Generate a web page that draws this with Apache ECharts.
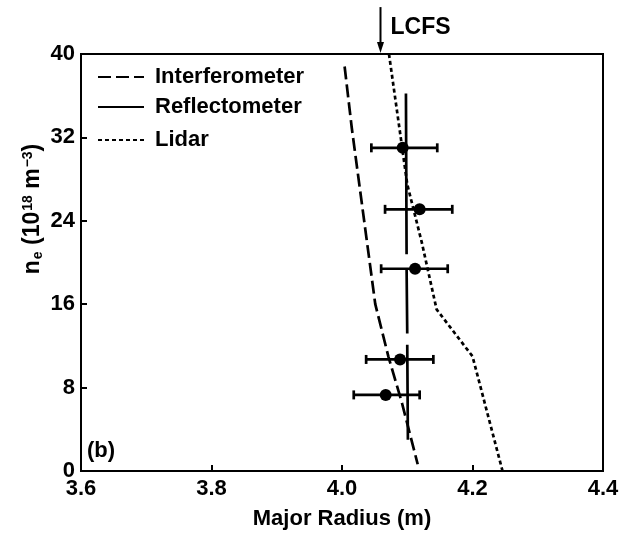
<!DOCTYPE html>
<html><head><meta charset="utf-8">
<script src="https://cdn.jsdelivr.net/npm/echarts@6/dist/echarts.min.js"></script>
<style>html,body{margin:0;padding:0;background:#fff}#c{width:623px;height:535px}</style>
</head><body><div id="c"></div>
<script>
// ---- data ----
const xTicks = [3.6, 3.8, 4.0, 4.2, 4.4];
const yTicks = [0, 8, 16, 24, 32, 40];
const interferometerR = [4.004, 4.015, 4.051, 4.071, 4.092, 4.116];
const interferometerN = [38.8, 32.9, 16.0, 11.0, 6.5, 0.65];
const lidarR = [4.072, 4.090, 4.100, 4.122, 4.145, 4.200, 4.246];
const lidarN = [40, 32, 27.5, 22, 15.5, 11.0, 0];
const reflSegR = [[4.098, 4.099], [4.099, 4.100], [4.100, 4.101]];
const reflSegN = [[36.2, 20.8], [19.4, 13.2], [12.1, 3.0]];
const pointR = [4.093, 4.119, 4.112, 4.089, 4.067];
const pointN = [31.0, 25.1, 19.4, 10.7, 7.3];
const pointLo = [4.045, 4.066, 4.060, 4.037, 4.018];
const pointHi = [4.146, 4.169, 4.162, 4.140, 4.119];
const lcfsR = 4.059;
const lcfsTopN = 44.5;
const legendNames = ['Interferometer', 'Reflectometer', 'Lidar'];
const yTitle = '{m|n}{sub|e}{m| (10}{sup|18}{m| m}{sup|−3}{m|)}';

// ---- build ----
const FONT = '"Liberation Sans", Arial, Helvetica, sans-serif';
const interfData = interferometerR.map((r, i) => [r, interferometerN[i]]);
const lidarData = lidarR.map((r, i) => [r, lidarN[i]]);
const reflData = [];
reflSegR.forEach((seg, i) => {
  if (i > 0) reflData.push('-');
  seg.forEach((r, j) => reflData.push([r, reflSegN[i][j]]));
});
const ptData = pointR.map((r, i) => [r, pointN[i], pointLo[i], pointHi[i]]);

const chart = echarts.init(document.getElementById('c'), null, {renderer: 'canvas'});
const lineW = 2.7;
const legendTops = [64, 94, 127];
const txt = {color: '#000', fontFamily: FONT, fontWeight: 'bold'};

chart.setOption({
  animation: false,
  backgroundColor: '#fff',
  color: ['#000', '#000', '#000'],
  grid: {left: 81, top: 54, width: 522, height: 417, show: true, borderColor: '#000', borderWidth: 2, backgroundColor: 'transparent'},
  xAxis: {
    type: 'value', min: xTicks[0], max: xTicks[xTicks.length - 1], interval: 0.2,
    axisLine: {show: true, lineStyle: {color: '#000', width: 2}},
    axisTick: {show: true, inside: true, length: 6, lineStyle: {color: '#000', width: 2}},
    splitLine: {show: false},
    axisLabel: Object.assign({fontSize: 22, margin: 7, formatter: v => v.toFixed(1)}, txt),
    name: 'Major Radius (m)', nameLocation: 'middle', nameGap: 37,
    nameTextStyle: Object.assign({fontSize: 22}, txt)
  },
  yAxis: {
    type: 'value', min: yTicks[0], max: yTicks[yTicks.length - 1], interval: 8,
    axisLine: {show: true, lineStyle: {color: '#000', width: 2}},
    axisTick: {show: true, inside: true, length: 6, lineStyle: {color: '#000', width: 2}},
    splitLine: {show: false},
    axisLabel: Object.assign({fontSize: 22, margin: 6}, txt)
  },
  legend: legendNames.map((n, i) => ({
    data: [n], left: 97, top: legendTops[i], padding: 0, orient: 'vertical',
    itemWidth: 46, itemHeight: 14, selectedMode: false,
    itemStyle: {opacity: 0},
    textStyle: Object.assign({fontSize: 22, padding: [0, 0, 0, 6], lineHeight: 26}, txt)
  })),
  graphic: [
    {type: 'text', left: 87, top: 440, style: {text: '(b)', fontSize: 22, fontFamily: FONT, fontWeight: 'bold', fill: '#000'}},
    {type: 'text', x: 33, y: 209, rotation: Math.PI / 2,
     style: {text: yTitle, align: 'center', verticalAlign: 'middle', fill: '#000', fontFamily: FONT, fontWeight: 'bold',
       rich: {
         m: {fontSize: 23, lineHeight: 30, verticalAlign: 'middle', fontFamily: FONT, fontWeight: 'bold', fill: '#000'},
         sub: {fontSize: 14, lineHeight: 30, verticalAlign: 'bottom', padding: [0, 0, 3, 1], fontFamily: FONT, fontWeight: 'bold', fill: '#000'},
         sup: {fontSize: 14, lineHeight: 30, verticalAlign: 'top', padding: [3, 0, 0, 1], fontFamily: FONT, fontWeight: 'bold', fill: '#000'}
       }}}
  ],
  series: [
    {name: 'Interferometer', type: 'line', data: interfData, symbol: 'none',
     itemStyle: {color: '#000'},
     lineStyle: {color: '#000', width: lineW, type: [13, 5]}},
    {name: 'Reflectometer', type: 'line', data: reflData, symbol: 'none', connectNulls: false,
     itemStyle: {color: '#000'},
     lineStyle: {color: '#000', width: lineW, type: 'solid'}},
    {name: 'Lidar', type: 'line', data: lidarData, symbol: 'none',
     itemStyle: {color: '#000'},
     lineStyle: {color: '#000', width: lineW, type: [4, 3]}},
    {name: 'points', type: 'custom', data: ptData, encode: {x: [0, 2, 3], y: 1},
     renderItem: function (params, api) {
       const c = api.coord([api.value(0), api.value(1)]);
       const a = api.coord([api.value(2), api.value(1)]);
       const b = api.coord([api.value(3), api.value(1)]);
       const st = {stroke: '#000', lineWidth: lineW};
       return {type: 'group', children: [
         {type: 'line', shape: {x1: a[0], y1: a[1], x2: b[0], y2: b[1]}, style: st},
         {type: 'line', shape: {x1: a[0], y1: a[1] - 4.5, x2: a[0], y2: a[1] + 4.5}, style: st},
         {type: 'line', shape: {x1: b[0], y1: b[1] - 4.5, x2: b[0], y2: b[1] + 4.5}, style: st},
         {type: 'circle', shape: {cx: c[0], cy: c[1], r: 6}, style: {fill: '#000'}}
       ]};
     }},
    {name: 'LCFS', type: 'custom', data: [[lcfsR, lcfsTopN]], clip: false,
     renderItem: function (params, api) {
       const bot = api.coord([api.value(0), 40]);
       const top = api.coord([api.value(0), api.value(1)]);
       return {type: 'group', children: [
         {type: 'line', shape: {x1: top[0], y1: top[1], x2: bot[0], y2: bot[1] - 6}, style: {stroke: '#000', lineWidth: 2}},
         {type: 'polygon', shape: {points: [[bot[0], bot[1] - 1], [bot[0] - 3.5, bot[1] - 12], [bot[0] + 3.5, bot[1] - 12]]}, style: {fill: '#000'}},
         {type: 'text', x: top[0] + 10, y: top[1] + 21, style: {text: 'LCFS', fontSize: 23, fontFamily: FONT, fontWeight: 'bold', fill: '#000', textVerticalAlign: 'middle'}}
       ]};
     }}
  ]
});
</script></body></html>
